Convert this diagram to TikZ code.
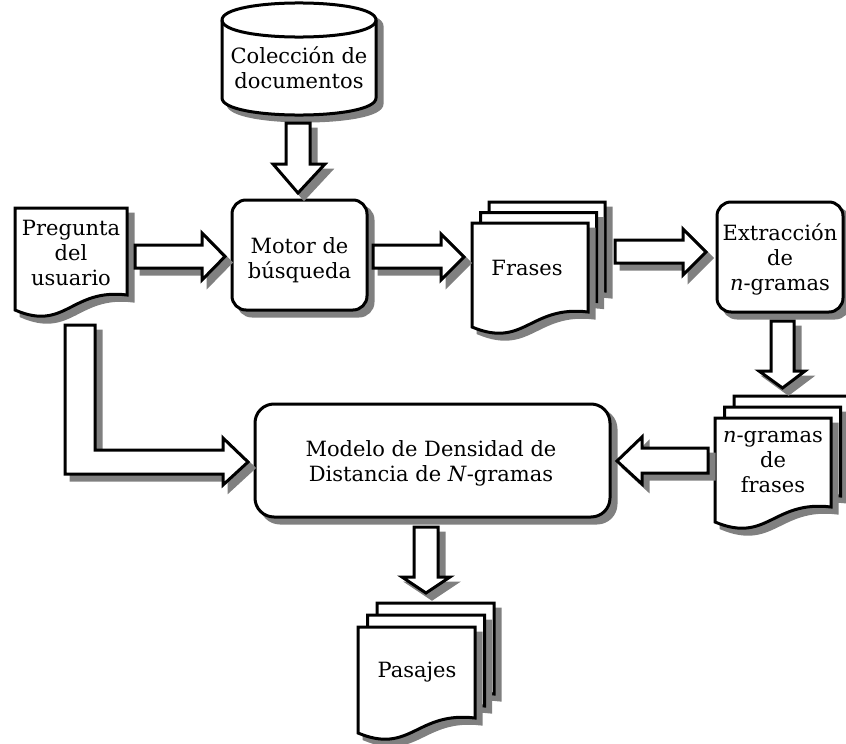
\documentclass[tikz,border=0pt]{standalone}
\usepackage{fontspec}
\setmainfont{DejaVu Serif}
\definecolor{shade}{gray}{0.5}
\tikzset{
  solid shape/.style={draw=black, line width=3pt, fill=white, line join=miter,
    preaction={draw=shade, fill=shade, line width=3pt,
      transform canvas={xshift=6pt, yshift=-6pt}}},
  box/.style={solid shape, rounded corners=14pt},
  bigbox/.style={solid shape, rounded corners=19pt},
  blockarrow/.style={solid shape},
  txt/.style={align=center, inner sep=0pt, font=\fontsize{21}{25}\selectfont},
}
% one sheet of paper with a wavy lower edge: left, top, right, lower-left y
\newcommand{\pagedoc}[4]{%
  \draw[solid shape] (#1,#2) -- (#3,#2) -- (#3,#4-15)
    .. controls ({0.5*#1+0.5*#3},#4-22) and ({0.55*#1+0.45*#3},#4+22) .. (#1,#4) -- cycle;}
\begin{document}
\begin{tikzpicture}[x=1pt,y=-1pt]
\useasboundingbox (0,0) rectangle (846,744);

% document collection (cylinder)
\draw[solid shape] (222,20) -- (222,98) .. controls (222,120.7) and (376,120.7) .. (376,98)
  -- (376,20) .. controls (376,-2.7) and (222,-2.7) .. (222,20) -- cycle;
\draw[line width=3pt] (222,20) .. controls (222,42.7) and (376,42.7) .. (376,20);
\node[txt] (coleccion) at (299,67.5) {Colección de\\documentos};

% user question
\pagedoc{15}{208}{127}{310}
\node[txt] (pregunta) at (71,253) {Pregunta\\del\\usuario};

% search engine
\draw[box] (232,200) rectangle (367,310);
\node[txt] (motor) at (299.5,260) {Motor de\\búsqueda};

% sentences
\pagedoc{489}{202}{605}{306}
\pagedoc{480.5}{212.5}{596.5}{316.5}
\pagedoc{472}{223}{588}{327}
\node[txt] (frases) at (527,268) {Frases};

% n-gram extraction
\draw[box] (717,202) rectangle (843,312);
\node[txt] (extraccion) at (780,259) {Extracción\\de\\\textit{n}-gramas};

% sentence n-grams
\pagedoc{734}{396}{850}{500}
\pagedoc{724.5}{407}{840.5}{511}
\pagedoc{715}{418}{831}{522}
\node[txt] (ngramas) at (773,462) {\textit{n}-gramas\\de\\frases};

% density model
\draw[bigbox] (255,404) rectangle (610,517);
\node[txt] (modelo) at (431,463.5) {Modelo de Densidad de\\Distancia de \textit{N}-gramas};

% passages
\pagedoc{377}{603}{494}{709}
\pagedoc{367.5}{615}{484.5}{721}
\pagedoc{358}{627}{475}{733}
\node[txt] (pasajes) at (417,672.5) {Pasajes};

% block arrows
\draw[blockarrow] (286,123) -- (310,123) -- (310,164) -- (325,164) -- (298,193)
  -- (273,164) -- (286,164) -- cycle;
\draw[blockarrow] (135,245) -- (202,245) -- (202,233) -- (225,256.5) -- (202,280)
  -- (202,268) -- (135,268) -- cycle;
\draw[blockarrow] (373,245) -- (441,245) -- (441,234) -- (464,257) -- (441,280)
  -- (441,268) -- (373,268) -- cycle;
\draw[blockarrow] (615,240) -- (683,240) -- (683,229) -- (706,252) -- (683,275)
  -- (683,263) -- (615,263) -- cycle;
\draw[blockarrow] (771,321) -- (794,321) -- (794,371) -- (805,371) -- (782.5,388)
  -- (759,371) -- (771,371) -- cycle;
\draw[blockarrow] (708,448) -- (642,448) -- (642,437) -- (617,461) -- (642,484)
  -- (642,473) -- (708,473) -- cycle;
\draw[blockarrow] (65,325) -- (95,325) -- (95,450) -- (223,450) -- (223,438)
  -- (248,462) -- (223,485) -- (223,474) -- (65,474) -- cycle;
\draw[blockarrow] (414,527) -- (438,527) -- (438,577) -- (450,577) -- (426,593)
  -- (402,577) -- (414,577) -- cycle;
\end{tikzpicture}
\end{document}
